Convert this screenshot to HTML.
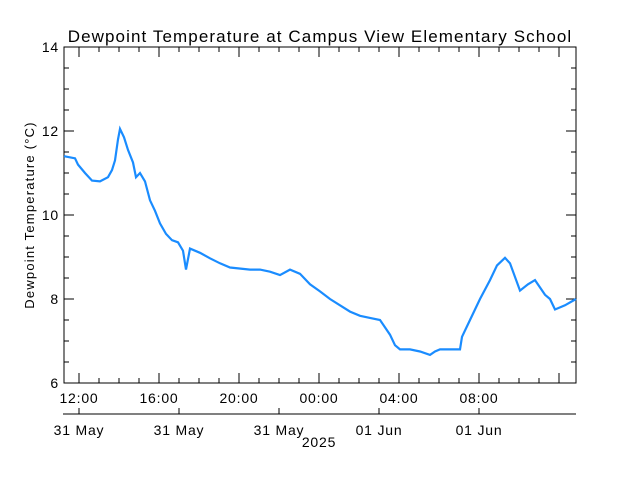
<!DOCTYPE html>
<html><head><meta charset="utf-8"><style>
body{margin:0;background:#fff}
text{font-family:"Liberation Sans",sans-serif;fill:#000;letter-spacing:0.8px}
</style></head><body>
<svg width="640" height="480" id="chart">
<text x="320" y="42" font-size="17" text-anchor="middle" style="letter-spacing:1.1px">Dewpoint Temperature at Campus View Elementary School</text>
<text transform="translate(34,215) rotate(-90)" font-size="13" text-anchor="middle" style="letter-spacing:1.2px">Dewpoint Temperature (°C)</text>
<rect x="64" y="47" width="512" height="336" fill="none" stroke="#000"/>
<g id="axes"></g>
<g id="series"></g>
</svg>
<script>
// hours since 31 May 12:00
const times=[-0.75,-0.2,-0.05,0.3,0.65,1.05,1.45,1.65,1.8,1.95,2.05,2.25,2.45,2.7,2.85,3.05,3.3,3.55,3.8,4.05,4.35,4.65,4.95,5.2,5.35,5.55,6.05,6.55,7.05,7.55,8.55,9.05,9.55,10.05,10.55,11.05,11.55,12.05,12.55,13.05,13.55,14.05,14.55,15.05,15.55,15.8,16.05,16.55,17.05,17.55,17.8,18.05,19.05,19.15,19.55,20.05,20.55,20.9,21.3,21.55,22.05,22.45,22.8,23.3,23.55,23.8,24.3,24.85];
const values=[11.4,11.35,11.2,11.0,10.82,10.8,10.9,11.07,11.3,11.8,12.05,11.85,11.55,11.25,10.9,11.0,10.8,10.35,10.1,9.8,9.55,9.4,9.35,9.15,8.7,9.2,9.1,8.97,8.85,8.75,8.7,8.7,8.65,8.57,8.7,8.6,8.35,8.18,8.0,7.85,7.7,7.6,7.55,7.5,7.15,6.9,6.8,6.8,6.75,6.67,6.75,6.8,6.8,7.1,7.5,8.0,8.45,8.8,8.98,8.85,8.2,8.35,8.45,8.1,8.0,7.75,7.85,8.0];
const yTicks=[6,8,10,12,14];
const topLabels=["12:00","16:00","20:00","00:00","04:00","08:00"];
const dateLabels=["31 May","31 May","31 May","01 Jun","01 Jun"];
const NS="http://www.w3.org/2000/svg";
const X0=64,X1=576,Y0=47,Y1=383,TMIN=-0.75,TMAX=24.85,VMIN=6,VMAX=14;
const xs=t=>X0+(t-TMIN)/(TMAX-TMIN)*(X1-X0);
const ys=v=>Y1-(v-VMIN)/(VMAX-VMIN)*(Y1-Y0);
const ax=document.getElementById('axes');
function mk(tag,attrs,parent){const e=document.createElementNS(NS,tag);for(const k in attrs)e.setAttribute(k,attrs[k]);parent.appendChild(e);return e;}
for(let v=VMIN;v<=VMAX;v+=0.5){const y=ys(v);const major=v%2===0;
 const l=mk('line',{x1:X0,x2:X0+(major?10:5),y1:y,y2:y,stroke:'#000'},ax);
 
 
 const r=mk('line',{x1:X1,x2:X1-(major?10:5),y1:y,y2:y,stroke:'#000'},ax);
 
 }
yTicks.forEach(v=>{const t=mk('text',{x:X0-5,y:ys(v)+5,'font-size':14,'text-anchor':'end'},ax);t.textContent=v;
 
 });
for(let h=0;h<=24;h++){const x=xs(h);const major=h%4===0;
 const b=mk('line',{x1:x,x2:x,y1:Y1,y2:Y1-(major?10:5),stroke:'#000'},ax);
 
 
 const t=mk('line',{x1:x,x2:x,y1:Y0,y2:Y0+(major?10:5),stroke:'#000'},ax);
 
 }
topLabels.forEach((s,i)=>{const t=mk('text',{x:xs(i*4),y:403,'font-size':14,'text-anchor':'middle'},ax);t.textContent=s;
 
 });
const da=mk('line',{x1:63,x2:X1,y1:414,y2:414,stroke:'#000'},ax);


dateLabels.forEach((s,i)=>{const x=xs(i*5);
 const tk=mk('line',{x1:x,x2:x,y1:414,y2:408,stroke:'#000'},ax);
 
 
 const t=mk('text',{x:x,y:435,'font-size':14,'text-anchor':'middle'},ax);t.textContent=s;
 
 });
const yr=mk('text',{x:xs(10)+40,y:447,'font-size':14,'text-anchor':'middle'},ax);yr.textContent="2025";


const pts=times.map((t,i)=>xs(t).toFixed(1)+','+ys(values[i]).toFixed(1)).join(' ');
const pl=mk('polyline',{points:pts,fill:'none',stroke:'#1a8cff','stroke-width':2.2},document.getElementById('series'));


</script>
</body></html>
